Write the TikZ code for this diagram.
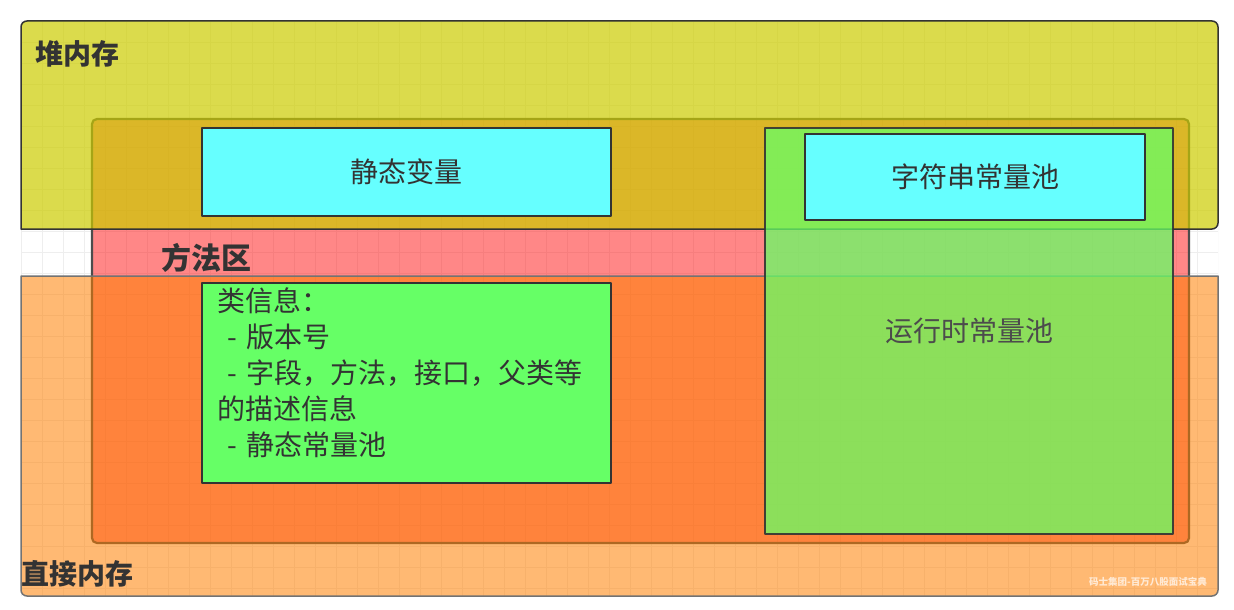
\documentclass[tikz,border=0pt]{standalone}
\usepackage{fontspec}
\newfontfamily\cjk{Noto Sans CJK SC}
\definecolor{txt}{HTML}{333333}
\definecolor{gridc}{HTML}{EEEEEE}
\definecolor{heapc}{HTML}{CCCC00}
\definecolor{directc}{HTML}{FF8000}
\definecolor{methodc}{HTML}{FF0000}
\definecolor{cyanc}{HTML}{66FFFF}
\definecolor{greenc}{HTML}{66FF66}
\tikzset{
  region/.style={line width=1.5pt},
  innerbox/.style={draw=txt, line width=2pt, inner sep=0pt},
  body/.style={font=\cjk\fontsize{28}{36}\selectfont, text=txt},
  title/.style={font=\cjk\bfseries\fontsize{28}{34}\selectfont, text=txt, inner sep=0pt},
}
\begin{document}
\begin{tikzpicture}[x=1pt,y=-1pt,line join=round]
\useasboundingbox (0,0) rectangle (1234,610);
\fill[white] (0,0) rectangle (1234,610);
% grid
\begin{scope}
\clip (21,21) rectangle (1218,596);
\foreach \g in {0,...,57} {\draw[gridc,line width=0.8pt] (21+21*\g,21) -- (21+21*\g,596);}
\foreach \g in {0,...,27} {\draw[gridc,line width=0.8pt] (21,21+21*\g) -- (1218,21+21*\g);}
\end{scope}
% method area (below)
\path[fill=methodc, fill opacity=0.47, draw=black!70, line width=2.2pt, rounded corners=5]
  (92,119) rectangle (1189,543);
% heap
\path[fill=heapc, fill opacity=0.7, draw=txt, region]
  (21,229) [rounded corners=6] -- (21,21) -- (1218,21) -- (1218,229) [sharp corners] -- cycle;
% direct memory
\path[fill=directc, fill opacity=0.55, draw=black!55, region]
  (21,276) -- (1218,276) [rounded corners=6] -- (1218,596) -- (21,596) [sharp corners] -- cycle;
% opaque inner boxes
\node[innerbox, fill=cyanc, minimum width=409pt, minimum height=88pt, body] (sv) at (406.5,172) {静态变量};
\node[innerbox, fill=greenc, minimum width=409pt, minimum height=200pt] (ci) at (406.5,383) {};
\node[body, anchor=north west, align=left, inner sep=0pt] (citext) at (217,287)
  {类信息：\\\hspace*{10pt}-\hspace{10pt}版本号\\\hspace*{10pt}-\hspace{10pt}字段，方法，接口，父类等\\的描述信息\\\hspace*{10pt}-\hspace{10pt}静态常量池};
% runtime constant pool (translucent)
\node[draw=txt, line width=2pt, fill=greenc, fill opacity=0.75, draw opacity=0.9,
      minimum width=408pt, minimum height=406pt, inner sep=0pt] (rcp) at (969,331) {};
\node[body, text=black!70] (rcptext) at (rcp.center) {运行时常量池};
% string pool
\node[innerbox, fill=cyanc, minimum width=340pt, minimum height=86pt, body] (sp) at (975,177) {字符串常量池};
% titles
\node[title, anchor=west] (heap) at (35,54) {堆内存};
\node[title, anchor=west, font=\cjk\bfseries\fontsize{30}{34}\selectfont] (method) at (161,258) {方法区};
\node[title, anchor=west] (direct) at (21,574) {直接内存};
% watermark
\node[font=\cjk\bfseries\fontsize{9.5}{10}\selectfont, text=white, text opacity=0.7, anchor=east, inner sep=0pt] (wm) at (1207,582) {码士集团-百万八股面试宝典};
\end{tikzpicture}
\end{document}
